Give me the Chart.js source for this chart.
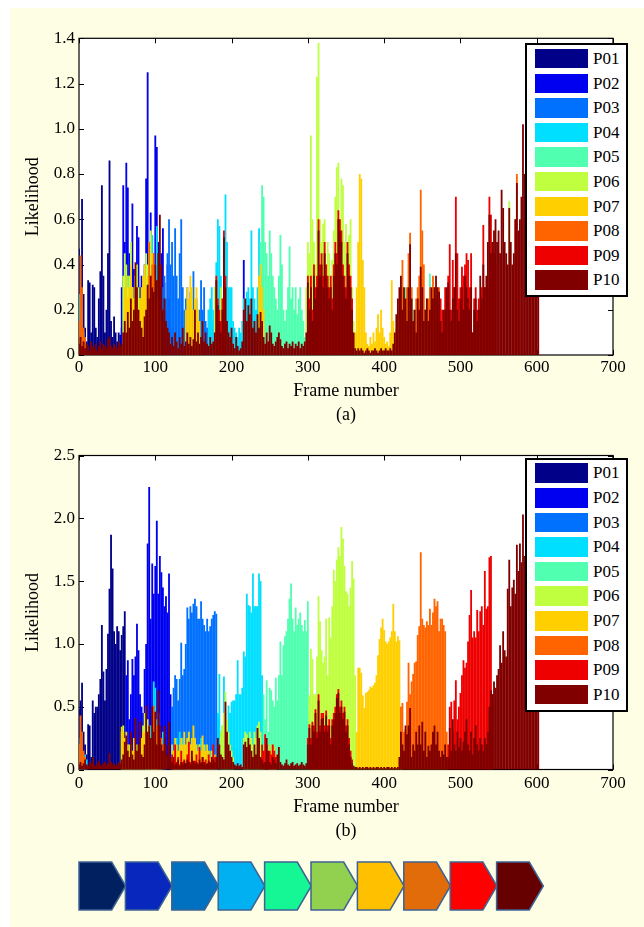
<!DOCTYPE html>
<html><head><meta charset="utf-8">
<script src="https://cdn.jsdelivr.net/npm/chart.js@4.4.1/dist/chart.umd.min.js"></script>
<style>
html,body{margin:0;padding:0;background:#fff;}
#page{position:relative;width:644px;height:927px;overflow:hidden;background:#fff;font-family:"Liberation Serif","Times New Roman",serif;}
#panel{position:absolute;left:10px;top:8px;width:634px;height:919px;background:#FEFEE4;}
canvas{position:absolute;left:0;}
.legend{position:absolute;left:525px;width:103px;height:254px;box-sizing:border-box;border:2px solid #000;background:#fff;}
.sw{position:absolute;left:8px;width:53px;height:19.5px;}
.lb{position:absolute;left:66px;font-size:17px;line-height:19.5px;color:#000;white-space:nowrap;}
#arrows{position:absolute;left:0;top:850px;}
</style></head>
<body><div id="page"><div id="panel"></div>
<canvas id="ca" width="644" height="430" style="top:0"></canvas>
<canvas id="cb" width="644" height="430" style="top:430px"></canvas>
<div class="legend" id="legA" style="top:43px"></div>
<div class="legend" id="legB" style="top:457.5px"></div>
<svg id="arrows" width="644" height="77"></svg>
</div>
<script>
// ---------- data ----------
const FRAME_STEP = 2; // each value below covers 2 frames; object keys = first frame of a run
const seriesNames = ['P01','P02','P03','P04','P05','P06','P07','P08','P09','P10'];
const xTicks = [0,100,200,300,400,500,600,700];
const xTickLabels = ['0','100','200','300','400','500','600','700'];
const yTicksA = [0,0.2,0.4,0.6,0.8,1.0,1.2,1.4];
const yTickLabelsA = ['0','0.2','0.4','0.6','0.8','1.0','1.2','1.4'];
const yTicksB = [0,0.5,1.0,1.5,2.0,2.5];
const yTickLabelsB = ['0','0.5','1.0','1.5','2.0','2.5'];

// (a)
const aP01 = {0:[0.47,0.2,0.69,0.27,0.12,0.06,0.33,0.32,0.1,0.31,0.30,0.12,0.08,0.25,0.37,0.75,0.35,0.1,0.2,0.45,0.86,0.15,0.08,0.17,0.1,0.06,0.1,0.09,0.12,0.3]};
const aP02 = {56:[0.3,0.75,0.5,0.85,0.74,0.45,0.3,0.67,0.38,0.25,0.57,0.52,0.3,0.35,0.22,0.4,0.78,1.25,0.5,0.63,0.4,0.45,0.97,0.92,0.5,0.3,0.45,0.56,0.32,0.2,0.4,0.25,0.12],
  216:[0.42,0.2]};
const aP03 = {110:[0.3,0.35,0.25,0.45,0.6,0.4,0.5,0.35,0.56,0.35,0.25,0.45,0.6,0.3,0.2,0.25,0.3,0.22,0.28,0.2,0.37,0.2,0.25,0.15,0.2,0.33,0.2,0.3,0.15,0.12,0.2,0.1,0.15,0.08]};
const aP04 = {0:[0.27,0.15,0.2,0.1],
  92:[0.3,0.45,0.53,0.35,0.4,0.57,0.3,0.2,0.15],
  170:[0.2,0.25,0.3,0.2,0.3,0.41,0.6,0.57,0.35,0.25,0.5,0.71,0.5,0.3,0.3,0.3,0.15,0.12,0.1,0.08,0.12,0.1,0.15,0.25,0.2,0.28,0.3,0.25,0.55,0.3,0.25,0.2,0.3,0.56,0.35,0.15]};
const aP05 = {60:[0.3,0.2,0.35,0.15,0.25,0.3,0.2,0.32,0.2,0.15,0.25,0.2],
  236:[0.3,0.5,0.75,0.7,0.5,0.45,0.35,0.55,0.45,0.35,0.3,0.25,0.2,0.35,0.53,0.4,0.2,0.15,0.2,0.3,0.48,0.25,0.3,0.2,0.3,0.18,0.25,0.3,0.2,0.15,0.08,0.05],
  428:[0.3,0.2,0.15,0.25,0.3,0.2,0.15,0.2,0.15,0.3,0.25,0.2,0.15,0.2,0.25,0.2,0.36,0.2]};
const aP06 = {58:[0.35,0.45,0.4,0.3,0.35,0.5,0.3,0.25,0.35,0.4,0.3,0.25,0.2,0.3,0.35,0.45,0.4,0.5,0.55,0.45,0.35,0.3,0.25,0.2,0.15],
  178:[0.3,0.35,0.25,0.2,0.3,0.25,0.15,0.1],
  298:[0.3,0.5,0.45,0.97,0.6,0.5,0.4,1.23,1.38,0.6,0.5,0.58,0.6,0.4,0.5,0.45,0.35,0.42,0.55,0.7,0.83,0.85,0.6,0.78,0.75,0.5,0.58,0.45,0.53,0.6,0.3,0.15],
  564:[0.68]};
const aP07 = {60:[0.3,0.35,0.25,0.3,0.4,0.3,0.25,0.35,0.3,0.2,0.25,0.3,0.35,0.4,0.3,0.35,0.25,0.3,0.45,0.35,0.3,0.25,0.2,0.15],
  140:[0.2,0.3,0.25,0.35,0.3,0.2,0.25,0.3,0.2,0.15],
  236:[0.35,0.4,0.3,0.2],
  362:[0.1,0.3,0.5,0.8,0.78,0.42,0.3,0.1,0.05,0.04,0.08,0.05,0.1,0.06,0.12,0.18,0.1,0.2,0.12,0.08,0.05,0.06,0.04,0.1,0.33,0.15,0.08,0.12,0.2]};
const aP08 = {0:[0.15,0.44,0.3,0.12,0.08],
  92:[0.5,0.35,0.4,0.45,0.3],
  420:[0.2,0.3,0.42,0.25,0.2,0.3,0.45,0.54,0.3,0.15,0.2,0.25,0.3,0.35,0.73,0.55,0.4,0.2,0.15,0.25,0.3,0.2,0.35,0.3,0.25,0.2,0.3,0.15,0.1,0.12,0.15],
  572:[0.6,0.8]};
const aP09 = {180:[0.35,0.25,0.2,0.15,0.25,0.55,0.35],
  300:[0.35,0.25,0.35,0.2,0.4,0.3,0.35,0.6,0.4,0.45,0.35,0.5,0.4,0.35,0.3,0.35,0.25,0.4,0.5,0.45,0.64,0.6,0.55,0.4,0.35,0.3,0.5,0.4,0.35,0.25],
  470:[0.15,0.2,0.25,0.2,0.15,0.3,0.25,0.35,0.49,0.2,0.42,0.3,0.7,0.45,0.25,0.3,0.39,0.35,0.4,0.45,0.42,0.3,0.45,0.1,0.25,0.3,0.2,0.25,0.2,0.3,0.575,0.3,0.1,0.3,0.7,0.62,0.5,0.45,0.4]};
const aP10 = {0:[
  0.05,0.08,0.04,0.06,0.03,0.05,0.04,0.02,0.06,0.04,0.03,0.05,0.02,0.04,0.06,0.03,0.05,0.04,0.03,0.07,0.08,0.04,0.03,0.05,0.04,0.03,0.06,0.04,0.05,0.1,
  0.15,0.1,0.19,0.12,0.25,0.15,0.2,0.41,0.3,0.2,0.15,0.12,0.08,0.17,0.2,0.31,0.25,0.35,0.3,0.28,0.4,0.33,0.45,0.62,0.4,0.2,0.25,0.15,0.12,0.1,
  0.05,0.08,0.04,0.1,0.06,0.03,0.08,0.05,0.12,0.04,0.06,0.1,0.05,0.08,0.04,0.07,0.2,0.06,0.1,0.05,0.08,0.15,0.06,0.1,0.05,0.04,0.08,0.05,0.06,0.1,
  0.33,0.22,0.15,0.1,0.2,0.52,0.3,0.15,0.1,0.08,0.12,0.05,0.03,0.08,0.04,0.02,0.03,0.06,0.2,0.25,0.15,0.22,0.18,0.25,0.12,0.15,0.1,0.18,0.12,0.19,
  0.15,0.08,0.05,0.1,0.06,0.13,0.1,0.05,0.04,0.06,0.08,0.1,0.07,0.04,0.03,0.05,0.06,0.03,0.05,0.04,0.06,0.03,0.05,0.04,0.06,0.03,0.05,0.04,0.06,0.1,
  0.32,0.2,0.3,0.15,0.35,0.25,0.3,0.55,0.35,0.4,0.3,0.45,0.35,0.3,0.25,0.3,0.2,0.35,0.45,0.4,0.6,0.55,0.5,0.35,0.3,0.25,0.45,0.35,0.3,0.2,
  0.1,0.03,0.02,0.03,0.02,0.03,0.02,0.01,0.02,0.03,0.02,0.01,0.02,0.02,0.03,0.02,0.01,0.02,0.03,0.02,0.02,0.03,0.02,0.02,0.03,0.02,0.05,0.1,0.18,0.25,
  0.3,0.35,0.2,0.3,0.25,0.15,0.3,0.49,0.25,0.15,0.2,0.1,0.25,0.2,0.39,0.3,0.15,0.2,0.25,0.15,0.2,0.3,0.25,0.3,0.35,0.3,0.28,0.15,0.1,0.2,
  0.2,0.3,0.32,0.2,0.15,0.25,0.3,0.45,0.2,0.15,0.25,0.3,0.2,0.35,0.3,0.25,0.2,0.3,0.1,0.2,0.25,0.15,0.2,0.35,0.25,0.4,0.3,0.35,0.5,0.62,
  0.45,0.5,0.55,0.6,0.5,0.55,0.45,0.73,0.65,0.5,0.45,0.4,0.65,0.5,0.4,0.45,0.6,0.76,0.55,0.6,0.7,1.02,0.8,0.7,0.65,0.6,0.7,0.65,0.6,0.55,
  0.5,0.45]};

// (b)
const bP01 = {0:[0.48,0.55,0.69,0.3,0.2,0.12,0.36,0.35,0.1,0.55,0.45,0.5,0.5,0.6,0.72,1.15,0.78,0.55,0.8,1.08,1.44,1.87,1.6,1.1,1.0,1.14,1.1,0.95,1.07,1.14,1.26]};
const bP02 = {62:[0.75,0.87,0.4,0.6,0.88,0.75,0.9,1.16,0.95,0.6,0.5,0.45,0.8,1.0,1.8,2.25,1.2,1.64,1.4,1.62,1.98,1.4,1.7,1.57,1.45,1.3,1.38,1.25,1.56,0.6]};
const bP03 = {122:[0.5,0.65,0.75,0.72,0.55,0.72,1.01,0.75,0.8,1.0,1.29,1.2,1.3,1.25,1.32,1.36,1.3,1.2,1.2,1.34,1.2,1.15,1.1,1.2,1.1,1.14,1.2,1.23,1.26,1.24,0.4]};
const bP04 = {0:[0.2,0.25,0.15,0.1,0.12,0.08],
  88:[0.2,0.3,0.25,0.35,0.3,0.7,0.65,0.4,0.3,0.25,0.2,0.3,0.15,0.1],
  124:[0.15,0.2,0.25,0.15,0.3,0.2,0.25,0.2,0.15,0.25,0.3,0.2,0.15,0.2,0.25,0.2,0.15,0.2,0.25,0.2,0.15,0.2,0.15,0.1,0.15,0.1,0.12,0.1,0.08,0.45],
  184:[0.76,0.3,0.35,0.74,0.45,0.2,0.51,0.45,0.54,0.55,0.55,0.6,0.87,0.6,0.6,0.65,0.94,0.9,1.4,1.31,1.3,1.25,1.56,1.3,1.3,1.3,1.56,1.5,0.75]};
const bP05 = {140:[0.1,0.15,0.2,0.12,0.1,0.18,0.25,0.15,0.1,0.2,0.12,0.08],
  242:[0.6,0.4,0.71,0.3,0.65,0.63,0.55,0.5,0.73,0.55,0.75,1.02,0.75,0.99,1.06,1.1,1.2,1.36,1.48,1.2,1.1,1.29,1.15,1.2,1.25,1.15,1.1,1.19,1.1,1.34]};
const bP06 = {56:[0.3,0.35,0.25,0.2,0.15,0.2,0.15,0.1,0.12,0.15,0.2,0.15,0.2,0.25,0.35,0.45,0.5,0.4,0.35,0.25,0.2,0.15,0.2,0.15,0.12,0.1,0.08],
  186:[0.3,0.35,0.45,0.62,0.4,0.3,0.2,0.15,0.1],
  216:[0.25,0.3,0.28,0.2,0.3,0.25,0.2,0.3,0.25,0.35,0.38,0.3,0.2,0.15],
  302:[0.59,0.96,0.88,0.6,0.6,0.9,1.38,1.18,0.95,0.85,0.9,1.2,0.75,1.21,1.05,1.3,1.59,1.5,1.67,1.77,1.7,1.93,1.84,1.62,1.42,1.4,1.3,1.45,1.66,1.52,0.75]};
const bP07 = {56:[0.34,0.3,0.25,0.3,0.2,0.15,0.2,0.15,0.25,0.2,0.15,0.12,0.2,0.25,0.3,0.3,0.4,0.3,0.25,0.2,0.25,0.2,0.15,0.1],
  122:[0.2,0.15,0.25,0.2,0.15,0.2,0.25,0.2,0.3,0.2,0.25,0.3,0.2,0.25,0.35,0.25,0.2,0.15,0.2,0.15,0.27,0.2,0.15,0.2,0.15,0.1,0.15,0.1,0.12,0.1],
  250:[0.2,0.15,0.2,0.18,0.12],
  364:[0.3,0.81,0.81,0.77,0.59,0.49,0.61,0.62,0.63,0.66,0.65,0.67,0.69,0.75,0.91,1.04,1.13,1.2,1.11,1.02,1.0,1.02,1.05,1.1,1.32,1.1,1.02,1.06,1.03,0.5]};
const bP08 = {0:[0.2,0.43,0.3,0.15,0.1],
  96:[0.3,0.51,0.4,0.35,0.45,0.3,0.25,0.2],
  422:[0.5,0.53,0.3,0.32,0.54,0.85,0.6,0.7,0.76,0.85,0.86,1.07,1.14,1.73,1.2,1.15,1.13,1.18,1.15,1.28,1.15,1.25,1.36,1.3,1.34,1.1,1.2,1.2,1.15,1.1,0.3]};
const bP09 = {120:[0.08,0.12,0.05,0.2,0.06,0.1,0.04,0.15,0.06,0.08,0.05,0.12,0.22,0.06,0.1,0.04,0.07,0.12,0.05,0.18,0.06,0.1,0.05,0.08,0.04,0.12,0.06,0.05,0.2,0.1],
  240:[0.2,0.15,0.28,0.2,0.1,0.15,0.12,0.2,0.15,0.1],
  300:[0.25,0.36,0.25,0.38,0.35,0.48,0.3,0.6,0.35,0.45,0.45,0.35,0.47,0.35,0.4,0.25,0.4,0.45,0.5,0.6,0.64,0.5,0.55,0.45,0.5,0.35,0.4,0.25,0.15,0.08],
  484:[0.2,0.5,0.54,0.3,0.55,0.71,0.4,0.5,0.61,0.75,0.87,0.81,0.85,1.02,1.23,1.43,1.05,1.1,1.05,1.27,1.1,1.26,1.3,1.15,1.58,1.28,1.3,1.69,1.7,0.6]};
const bP10 = {0:[
  0.04,0.06,0.03,0.05,0.08,0.04,0.03,0.06,0.05,0.1,0.04,0.03,0.05,0.07,0.04,0.03,0.05,0.06,0.04,0.05,0.13,0.06,0.04,0.05,0.03,0.04,0.06,0.05,0.08,0.12,
  0.22,0.27,0.15,0.1,0.3,0.12,0.08,0.41,0.15,0.2,0.38,0.12,0.1,0.2,0.51,0.3,0.35,0.25,0.5,0.3,0.46,0.2,0.63,0.35,0.2,0.15,0.35,0.2,0.12,0.38,
  0.1,0.06,0.1,0.04,0.05,0.08,0.03,0.06,0.04,0.07,0.05,0.08,0.06,0.04,0.15,0.07,0.05,0.06,0.04,0.08,0.05,0.1,0.06,0.04,0.05,0.07,0.05,0.1,0.08,0.06,
  0.1,0.25,0.2,0.12,0.1,0.08,0.54,0.3,0.2,0.15,0.1,0.06,0.04,0.03,0.05,0.03,0.04,0.02,0.2,0.22,0.18,0.25,0.2,0.15,0.1,0.2,0.12,0.33,0.25,0.1,
  0.08,0.05,0.06,0.25,0.15,0.06,0.04,0.1,0.08,0.05,0.12,0.18,0.06,0.04,0.03,0.05,0.08,0.04,0.03,0.05,0.06,0.03,0.04,0.05,0.03,0.04,0.06,0.04,0.03,0.05,
  0.2,0.33,0.2,0.35,0.3,0.45,0.25,0.55,0.3,0.4,0.41,0.3,0.43,0.3,0.35,0.2,0.35,0.4,0.45,0.57,0.61,0.45,0.5,0.4,0.46,0.3,0.35,0.2,0.1,0.05,
  0.03,0.02,0.02,0.01,0.02,0.01,0.02,0.01,0.02,0.02,0.01,0.02,0.01,0.02,0.01,0.02,0.02,0.01,0.02,0.01,0.02,0.01,0.02,0.02,0.01,0.02,0.01,0.02,0.01,0.02,
  0.1,0.3,0.2,0.15,0.35,0.28,0.35,0.49,0.1,0.2,0.15,0.3,0.2,0.35,0.2,0.38,0.15,0.3,0.1,0.19,0.15,0.2,0.3,0.35,0.2,0.3,0.15,0.1,0.15,0.12,
  0.2,0.1,0.1,0.33,0.15,0.4,0.2,0.15,0.3,0.18,0.25,0.15,0.22,0.3,0.4,0.2,0.15,0.3,0.12,0.25,0.35,0.2,0.15,0.25,0.2,0.15,0.25,0.2,0.3,0.5,
  0.63,0.6,0.7,0.65,0.75,0.8,0.99,0.85,1.1,0.95,0.9,1.44,1.67,1.3,1.45,1.51,1.4,1.79,1.58,1.8,1.65,2.03,1.7,1.6,1.4,1.3,1.2,1.35,1.5,1.3,
  1.2,1.1]};

// ---------- styles ----------
const seriesColors = ['#000088','#0000F0','#0070FF','#00DFFF','#50FFB0','#BFFF40','#FFCF00','#FF6400','#EE0000','#800000'];
const arrowColors = ['#002060','#0828BD','#0070C0','#00B0F0','#14F794','#92D050','#FFC000','#E36C0A','#FF0000','#660000'];
const FONT = '"Liberation Serif", "Times New Roman", serif';

function toPoints(segs) {
  const pts = [];
  Object.keys(segs).map(Number).sort((a, b) => a - b).forEach(s => {
    segs[s].forEach((v, j) => pts.push({x: s + FRAME_STEP * j, y: v}));
  });
  return pts;
}

const framePlugin = {
  id: 'frameBox',
  beforeDraw(chart) {
    const {ctx, chartArea: a} = chart;
    ctx.save();
    ctx.fillStyle = '#ffffff';
    ctx.fillRect(a.left, a.top, a.right - a.left, a.bottom - a.top);
    ctx.restore();
  },
  beforeDatasetsDraw(chart) {
    const {ctx, chartArea: a, scales} = chart;
    ctx.save();
    ctx.strokeStyle = '#000';
    ctx.lineWidth = 1.2;
    ctx.strokeRect(a.left, a.top, a.right - a.left, a.bottom - a.top);
    ctx.lineWidth = 1;
    ctx.beginPath();
    scales.x.ticks.forEach(t => {
      const px = Math.round(scales.x.getPixelForValue(t.value)) + 0.5;
      ctx.moveTo(px, a.bottom); ctx.lineTo(px, a.bottom - 5);
      ctx.moveTo(px, a.top); ctx.lineTo(px, a.top + 5);
    });
    scales.y.ticks.forEach(t => {
      const py = Math.round(scales.y.getPixelForValue(t.value)) + 0.5;
      ctx.moveTo(a.left, py); ctx.lineTo(a.left + 5, py);
      ctx.moveTo(a.right, py); ctx.lineTo(a.right - 5, py);
    });
    ctx.stroke();
    ctx.restore();
  }
};

function makeChart(id, segs, yTicks, yLabels, letter, canvasTop, chartTop, chartBottom, tickPad, titlePad) {
  const H = 430;
  const datasets = segs.map((s, i) => ({
    label: seriesNames[i],
    data: toPoints(s),
    backgroundColor: seriesColors[i],
    borderWidth: 0,
    order: seriesNames.length - i,
    grouped: false,
    barPercentage: 1.2,
    categoryPercentage: 1
  }));
  return new Chart(document.getElementById(id), {
    type: 'bar',
    data: {datasets},
    options: {
      responsive: false,
      animation: false,
      events: [],
      layout: {padding: {top: chartTop - canvasTop, right: 31, left: 0, bottom: 0}},
      plugins: {legend: {display: false}, tooltip: {enabled: false}},
      scales: {
        x: {
          type: 'linear', min: 0, max: 700, offset: false,
          grid: {display: false, drawTicks: false, offset: false},
          border: {display: false},
          afterBuildTicks: s => { s.ticks = xTicks.map(v => ({value: v})); },
          afterFit: s => { s.height = canvasTop + H - chartBottom; },
          ticks: {callback: (v, i) => xTickLabels[i], font: {family: FONT, size: 17}, color: '#000', padding: tickPad, maxRotation: 0, autoSkip: false},
          title: {display: true, text: ['Frame number', letter], font: {family: FONT, size: 18, lineHeight: 1.3}, color: '#000', padding: {top: 0, bottom: titlePad}}
        },
        y: {
          type: 'linear', min: yTicks[0], max: yTicks[yTicks.length - 1],
          grid: {display: false, drawTicks: false},
          border: {display: false},
          afterBuildTicks: s => { s.ticks = yTicks.map(v => ({value: v})); },
          afterFit: s => { s.width = 79; },
          ticks: {callback: (v, i) => yLabels[i], font: {family: FONT, size: 17}, color: '#000', padding: 4, autoSkip: false},
          title: {display: true, text: 'Likelihood', font: {family: FONT, size: 18, lineHeight: 1.2}, color: '#000', padding: {top: 22, bottom: 0}}
        }
      }
    },
    plugins: [framePlugin]
  });
}

makeChart('ca', [aP01,aP02,aP03,aP04,aP05,aP06,aP07,aP08,aP09,aP10], yTicksA, yTickLabelsA, '(a)', 0, 38.3, 355, 2.5, 3.5);
makeChart('cb', [bP01,bP02,bP03,bP04,bP05,bP06,bP07,bP08,bP09,bP10], yTicksB, yTickLabelsB, '(b)', 430, 455.5, 769.5, 3.5, 17.3);

// legends (HTML text)
['legA', 'legB'].forEach(id => {
  const el = document.getElementById(id);
  seriesNames.forEach((name, i) => {
    const top = 3.9 + i * 24.6;
    const sw = document.createElement('div');
    sw.className = 'sw'; sw.style.top = top + 'px'; sw.style.background = seriesColors[i];
    const lb = document.createElement('div');
    lb.className = 'lb'; lb.style.top = top + 'px'; lb.textContent = name;
    el.appendChild(sw); el.appendChild(lb);
  });
});

// chevron arrows
const svg = document.getElementById('arrows');
arrowColors.forEach((c, i) => {
  const x0 = 79 + i * 46.4;
  const p = document.createElementNS('http://www.w3.org/2000/svg', 'polygon');
  p.setAttribute('points', `${x0},12 ${x0 + 32.7},12 ${x0 + 46.7},36 ${x0 + 32.7},60 ${x0},60`);
  p.setAttribute('fill', c);
  p.setAttribute('stroke', '#3E6392');
  p.setAttribute('stroke-width', '1.5');
  svg.appendChild(p);
});
</script></body></html>
